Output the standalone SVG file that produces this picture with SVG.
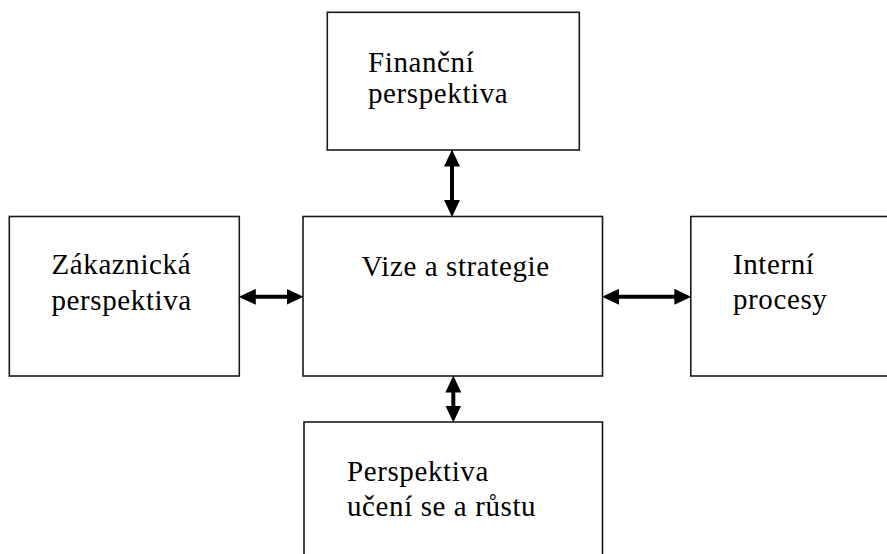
<svg xmlns="http://www.w3.org/2000/svg" width="887" height="554" viewBox="0 0 887 554">
<style>
.box{fill:#fff;stroke:#1a1a1a;stroke-width:1.6}
.lbl{font-family:"Liberation Serif","Times New Roman",serif;font-size:29px;letter-spacing:0.6px;fill:#000}
.conn{stroke:#000;stroke-width:4;fill:none}
</style>
<defs>
<marker id="ah" markerUnits="userSpaceOnUse" markerWidth="17" markerHeight="16" viewBox="0 0 16 15" refX="8" refY="7.5" orient="auto-start-reverse">
<path d="M0,0 L16,7.5 L0,15 z" fill="#000"/>
</marker>
</defs>
<rect width="887" height="554" fill="#fff"/>
<g id="financni">
<rect class="box" x="327.3" y="12.3" width="252" height="137.7"/>
<text class="lbl" x="368" y="72">Finanční</text>
<text class="lbl" x="368" y="103">perspektiva</text>
</g>
<g id="vize">
<rect class="box" x="303" y="216.5" width="299.5" height="159.5"/>
<text class="lbl" x="361.5" y="276">Vize a strategie</text>
</g>
<g id="zakaznicka">
<rect class="box" x="9.3" y="216.5" width="230" height="159.5"/>
<text class="lbl" x="51.5" y="273.5">Zákaznická</text>
<text class="lbl" x="51.5" y="310">perspektiva</text>
</g>
<g id="interni">
<rect class="box" x="690.8" y="216.5" width="200" height="159.5"/>
<text class="lbl" x="733" y="273.5">Interní</text>
<text class="lbl" x="733" y="308.5">procesy</text>
</g>
<g id="uceni">
<rect class="box" x="304" y="422" width="298.5" height="140"/>
<text class="lbl" x="347" y="481">Perspektiva</text>
<text class="lbl" x="347" y="516">učení se a růstu</text>
</g>
<g id="connectors">
<line class="conn" x1="452" y1="158" x2="452" y2="208.5" marker-start="url(#ah)" marker-end="url(#ah)"/>
<line class="conn" x1="453.3" y1="384" x2="453.3" y2="414" marker-start="url(#ah)" marker-end="url(#ah)"/>
<line class="conn" x1="247.3" y1="296.8" x2="295" y2="296.8" marker-start="url(#ah)" marker-end="url(#ah)"/>
<line class="conn" x1="610.5" y1="296.8" x2="682.8" y2="296.8" marker-start="url(#ah)" marker-end="url(#ah)"/>
</g>
</svg>
